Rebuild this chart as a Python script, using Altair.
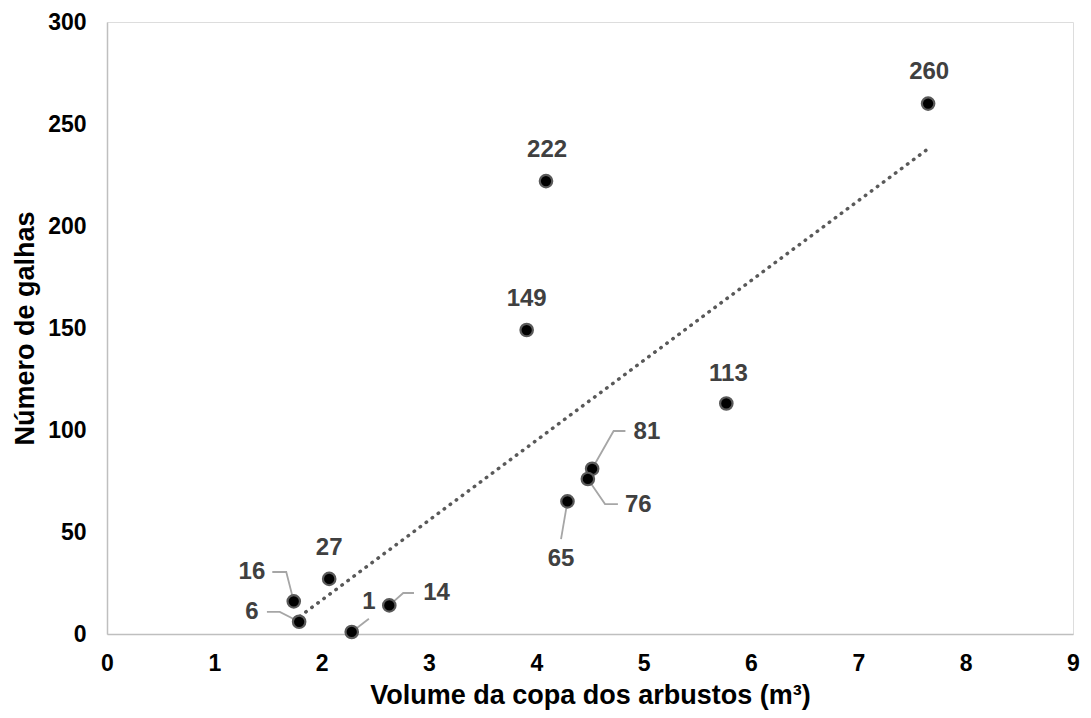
import altair as alt
import pandas as pd

# Data
volume = [7.65, 4.09, 3.91, 5.77, 4.52, 4.48, 4.29, 2.07, 1.74, 1.79, 2.28, 2.63]
galhas = [260, 222, 149, 113, 81, 76, 65, 27, 16, 6, 1, 14]
labels = [str(v) for v in galhas]

# label anchor positions (data units)
label_x = [7.66, 4.10, 3.91, 5.79, 5.03, 4.95, 4.23, 2.07, 1.35, 1.35, 2.44, 3.07]
label_y = [275.5, 237.3, 164.2, 127.5, 99.0, 63.2, 36.8, 42.2, 30.4, 10.8, 15.7, 20.1]

# leader lines: (label index, list of bend points in data units) ending at the point
leader_paths = {
    4: [(4.83, 99.5), (4.72, 99.5)],
    5: [(4.76, 63.7), (4.64, 63.7)],
    6: [(4.23, 46.5)],
    8: [(1.54, 30.4), (1.67, 30.4)],
    9: [(1.49, 10.8), (1.61, 10.8)],
    10: [(2.44, 7.5)],
    11: [(2.86, 20.1), (2.76, 20.1)],
}

pts = pd.DataFrame({"x": volume, "y": galhas, "label": labels})
lab = pd.DataFrame({"x": label_x, "y": label_y, "label": labels})

rows = []
for i, path in leader_paths.items():
    seq = list(path) + [(volume[i], galhas[i])]
    for k, (lx, ly) in enumerate(seq):
        rows.append({"g": i, "o": k, "x": lx, "y": ly})
lead = pd.DataFrame(rows)

FONT = "Liberation Sans"

xscale = alt.Scale(domain=[0, 9], nice=False, zero=False)
yscale = alt.Scale(domain=[0, 300], nice=False)

xaxis = alt.Axis(
    title="Volume da copa dos arbustos (m³)",
    values=list(range(0, 10)), format="d",
    grid=False, ticks=False, domainColor="#bfbfbf", domainWidth=1.5,
    labelFont=FONT, labelFontSize=23, labelFontWeight="bold", labelColor="#000000",
    labelPadding=18, labelFlush=False,
    titleFont=FONT, titleFontSize=27, titleFontWeight="bold", titleColor="#000000",
    titlePadding=7,
)
yaxis = alt.Axis(
    title="Número de galhas",
    values=list(range(0, 301, 50)), format="d",
    grid=False, ticks=False, domainColor="#bfbfbf", domainWidth=1.5,
    labelFont=FONT, labelFontSize=23, labelFontWeight="bold", labelColor="#000000",
    labelPadding=21, labelFlush=False,
    titleFont=FONT, titleFontSize=27, titleFontWeight="bold", titleColor="#000000",
    titlePadding=8,
)

base_pts = alt.Chart(pts)

trend = base_pts.transform_regression("x", "y").mark_line(
    color="#595959", strokeWidth=3.5, strokeDash=[0.5, 7], strokeCap="round"
).encode(x=alt.X("x:Q", scale=xscale, axis=xaxis), y=alt.Y("y:Q", scale=yscale, axis=yaxis))

leaders = alt.Chart(lead).mark_line(color="#a6a6a6", strokeWidth=1.8).encode(
    x=alt.X("x:Q", scale=xscale), y=alt.Y("y:Q", scale=yscale),
    detail="g:N", order="o:Q",
)

points = base_pts.mark_point(
    filled=True, fill="#000000", stroke="#5a5a5a", strokeWidth=2.2, size=155, opacity=1
).encode(x=alt.X("x:Q", scale=xscale), y=alt.Y("y:Q", scale=yscale))

texts = alt.Chart(lab).mark_text(
    font=FONT, fontSize=24, fontWeight="bold", color="#404040",
    align="center", baseline="middle",
).encode(x=alt.X("x:Q", scale=xscale), y=alt.Y("y:Q", scale=yscale), text="label:N")

chart = alt.layer(trend, leaders, points, texts).properties(
    width=966, height=612,
    autosize=alt.AutoSizeParams(type="none"),
    padding={"left": 99, "top": 14, "right": 10, "bottom": 76},
).configure_view(stroke=None).configure(background="#ffffff")

chart.save("out.html", embed_options={"renderer": "svg", "actions": False})
